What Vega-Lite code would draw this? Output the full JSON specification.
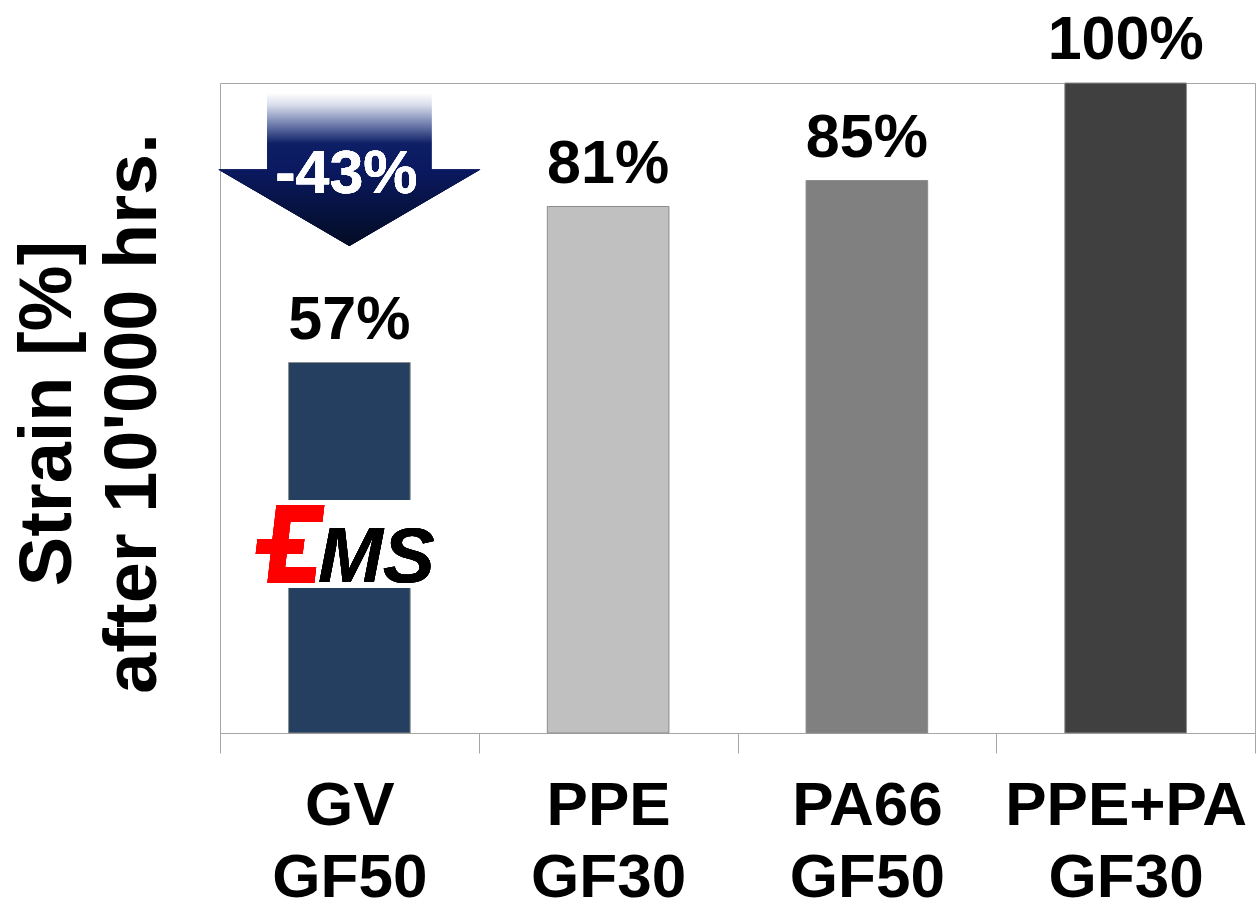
{
  "$schema": "https://vega.github.io/schema/vega-lite/v6.json",
  "width": 1035,
  "height": 650,
  "autosize": {"type": "none"},
  "padding": {"left": 220, "top": 83, "right": 1, "bottom": 172},
  "background": "white",
  "config": {"view": {"stroke": "#a6a6a6", "strokeWidth": 1}, "font": "Liberation Sans"},
  "data": {
    "values": [
      {"material": "GV GF50", "strain": 57, "label": "57%"},
      {"material": "PPE GF30", "strain": 81, "label": "81%"},
      {"material": "PA66 GF50", "strain": 85, "label": "85%"},
      {"material": "PPE+PA GF30", "strain": 100, "label": "100%"}
    ]
  },
  "layer": [
    {
      "mark": {"type": "bar", "stroke": "#8c8c8c", "strokeWidth": 1, "width": {"band": 0.47}},
      "encoding": {
        "x": {
          "field": "material", "type": "nominal", "sort": null,
          "scale": {"paddingInner": 0, "paddingOuter": 0},
          "axis": {
            "title": null, "labelExpr": "split(datum.label, ' ')", "labelFont": "Liberation Sans",
            "labelFontSize": 62, "labelFontWeight": "bold", "labelColor": "black",
            "labelLineHeight": 72, "labelPadding": 22, "labelAngle": 0, "labelLimit": 0,
            "tickBand": "extent", "tickSize": 20, "tickColor": "#a6a6a6", "domainColor": "#a6a6a6"
          }
        },
        "y": {
          "field": "strain", "type": "quantitative",
          "scale": {"domain": [0, 100], "nice": false},
          "axis": {
            "title": ["Strain [%]", "after 10'000 hrs."], "labels": false, "ticks": false,
            "domain": false, "grid": false, "titleFont": "Liberation Sans", "titleFontSize": 74,
            "titleFontWeight": "bold", "titleColor": "black", "titleLineHeight": 85,
            "titleAngle": -90, "titleX": -150, "titleY": 330, "titleAlign": "center",
            "titleBaseline": "alphabetic"
          }
        },
        "color": {
          "field": "material", "type": "nominal", "sort": null,
          "scale": {"domain": ["GV GF50", "PPE GF30", "PA66 GF50", "PPE+PA GF30"], "range": ["#243f60", "#c0c0c0", "#808080", "#404040"]},
          "legend": null
        }
      }
    },
    {
      "mark": {"type": "bar", "color": "white", "strokeWidth": 0, "width": {"band": 0.475}},
      "encoding": {
        "x": {"datum": "GV GF50", "type": "nominal"},
        "y": {"datum": 22.3, "type": "quantitative"},
        "y2": {"datum": 35.85}
      }
    },
    {
      "mark": {
        "type": "point",
        "shape": "M -1.825 -0.975 L -0.625 -0.975 L -0.675 -0.55 L -1.475 -0.55 L -1.5225 -0.125 L -1.1225 -0.125 L -1.1675 0.25 L -1.5675 0.25 L -1.605 0.575 L -0.83 0.575 L -0.875 0.975 L -2.05 0.975 L -1.9675 0.25 L -2.3425 0.25 L -2.2975 -0.125 L -1.9225 -0.125 Z",
        "size": 6400, "filled": true, "fill": "#ff0000", "opacity": 1, "strokeWidth": 0
      },
      "encoding": {
        "x": {"datum": "GV GF50", "type": "nominal"},
        "y": {"datum": 29.08, "type": "quantitative"}
      }
    },
    {
      "mark": {"type": "text", "text": "MS", "fontSize": 78, "fontWeight": "bold", "fontStyle": "italic", "color": "black", "dx": 27, "align": "center", "baseline": "alphabetic"},
      "encoding": {
        "x": {"datum": "GV GF50", "type": "nominal"},
        "y": {"datum": 23.2, "type": "quantitative"}
      }
    },
    {
      "mark": {"type": "text", "dy": -24, "baseline": "alphabetic", "align": "center", "fontSize": 61, "fontWeight": "bold", "color": "black"},
      "encoding": {
        "x": {"field": "material", "type": "nominal", "sort": null},
        "y": {"field": "strain", "type": "quantitative"},
        "text": {"field": "label", "type": "nominal"}
      }
    },
    {
      "mark": {
        "type": "point",
        "shape": "M -0.626 -0.584 L 0.626 -0.584 L 0.626 0 L 1 0 L 0 0.584 L -1 0 L -0.626 0 Z",
        "size": 68644, "filled": true, "opacity": 1, "strokeWidth": 0,
        "fill": {
          "gradient": "linear", "x1": 0, "y1": 0, "x2": 0, "y2": 1,
          "stops": [
            {"offset": 0, "color": "#ffffff"},
            {"offset": 0.08, "color": "#d8dcea"},
            {"offset": 0.2, "color": "#7482b0"},
            {"offset": 0.33, "color": "#0e1f66"},
            {"offset": 0.5, "color": "#0a1960"},
            {"offset": 1, "color": "#030c24"}
          ]
        }
      },
      "encoding": {
        "x": {"datum": "GV GF50", "type": "nominal"},
        "y": {"datum": 86.7, "type": "quantitative"}
      }
    },
    {
      "mark": {"type": "text", "text": "-43%", "fontSize": 61, "fontWeight": "bold", "color": "white", "dx": -3, "align": "center", "baseline": "alphabetic"},
      "encoding": {
        "x": {"datum": "GV GF50", "type": "nominal"},
        "y": {"datum": 83.1, "type": "quantitative"}
      }
    }
  ]
}
